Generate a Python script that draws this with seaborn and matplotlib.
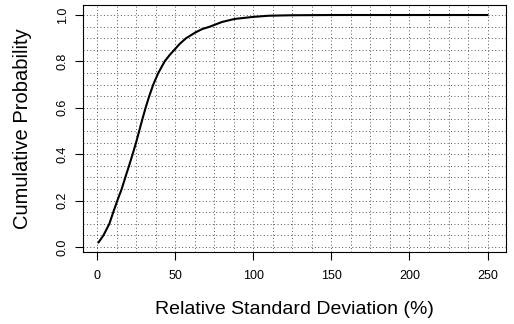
import numpy as np
import pandas as pd
import matplotlib
matplotlib.use("Agg")
import matplotlib.pyplot as plt
import seaborn as sns

rsd = [0.9, 4.1, 7.9, 10.4, 13.0, 15.8, 18.1, 20.5, 22.8, 25.0, 27.0, 29.0,
       31.1, 33.4, 36.0, 39.2, 43.3, 46.3, 49.5, 53.0, 57.0, 63.0, 67.5, 72.3,
       80.0, 88.0, 100.0, 110.0, 125.0, 150.0, 200.0, 250.0]
cum_prob = [0.019, 0.05, 0.10, 0.15, 0.20, 0.25, 0.30, 0.35, 0.40, 0.45, 0.50,
            0.55, 0.60, 0.65, 0.70, 0.75, 0.80, 0.826, 0.85, 0.876, 0.90, 0.925,
            0.94, 0.95, 0.97, 0.983, 0.992, 0.997, 0.999, 1.0, 1.0, 1.0]
x_ticks = [0, 50, 100, 150, 200, 250]
y_ticks = [0.0, 0.2, 0.4, 0.6, 0.8, 1.0]

df = pd.DataFrame({'RSD': rsd, 'Prob': cum_prob})

sns.set_theme(style="white")
plt.rcParams['font.family'] = ['Liberation Sans', 'DejaVu Sans']

fig = plt.figure(figsize=(5.14, 3.24), dpi=100)
ax = fig.add_axes([0.1615, 0.2222, 0.8230, 0.7623])

# grade pontilhada (12.5 em x, 0.05 em y)
for gx in np.arange(0, 250.1, 12.5):
    ax.axvline(gx, color='#555555', linestyle=(0, (1, 2.5)), linewidth=0.7, zorder=0)
for gy in np.arange(0, 1.001, 0.05):
    ax.axhline(gy, color='#555555', linestyle=(0, (1, 2.5)), linewidth=0.7, zorder=0)

sns.lineplot(x='RSD', y='Prob', data=df, color='black', linewidth=1.5, ax=ax)

ax.set_xlim(-8.96, 261.8)
ax.set_ylim(-0.0216, 1.0431)
ax.set_xticks(x_ticks)
ax.set_xticklabels([str(t) for t in x_ticks])
ax.set_yticks(y_ticks)
ax.set_yticklabels([f'{t:.1f}' for t in y_ticks], rotation=90, va='center')
ax.tick_params(axis='both', direction='out', length=5.8, width=0.8, color='black',
               labelsize=9, labelcolor='black', left=True, bottom=True)
ax.tick_params(axis='x', pad=7.5)
ax.tick_params(axis='y', pad=4.5)
for s in ax.spines.values():
    s.set_color('black')
    s.set_linewidth(0.8)

ax.set_xlabel('Relative Standard Deviation (%)', fontsize=14, color='black', va='center')
ax.xaxis.set_label_coords(0.5, -0.232)
ax.set_ylabel('Cumulative Probability', fontsize=14.5, color='black', va='center')
ax.yaxis.set_label_coords(-0.142, 0.5)

fig.savefig('out.png', dpi=100)
plt.close(fig)
